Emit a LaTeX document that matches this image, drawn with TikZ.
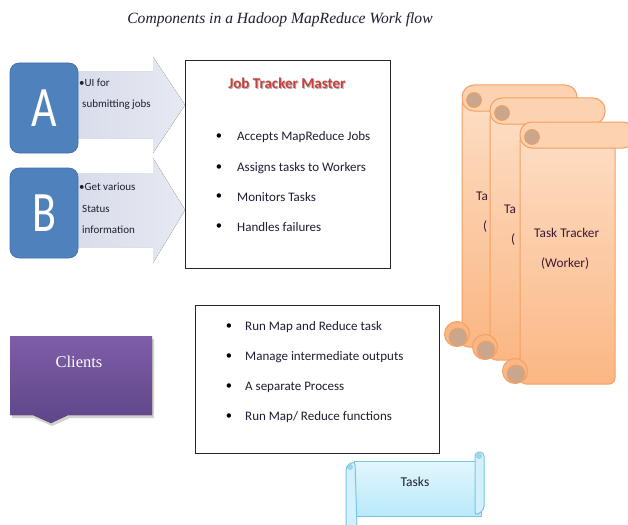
\documentclass[tikz,border=0pt]{standalone}
\usepackage{fontspec}
\setmainfont{Carlito}
\newfontfamily\serifface{Liberation Serif}
\definecolor{txt}{HTML}{1E1E32}
\definecolor{blueBox}{HTML}{4F81BD}
\definecolor{blueEdge}{HTML}{3F6FA8}
\definecolor{arrowFill}{HTML}{D8DCEA}
\definecolor{arrowLight}{HTML}{E6E9F2}
\definecolor{jtRed}{HTML}{C8403C}
\definecolor{peachTop}{HTML}{FDDDC4}
\definecolor{peachBot}{HTML}{FAB784}
\definecolor{peachRoll}{HTML}{FCD2B0}
\definecolor{orangeEdge}{HTML}{F4A062}
\definecolor{curlTan}{HTML}{C9A68C}
\definecolor{purpleTop}{HTML}{7F5DA8}
\definecolor{purpleBot}{HTML}{5E4689}
\definecolor{cyanTop}{HTML}{E2F6FD}
\definecolor{cyanBot}{HTML}{B9E9FA}
\definecolor{cyanEdge}{HTML}{78C6E0}

\tikzset{
  letterbox/.style={fill=blueBox, draw=blueEdge, rounded corners=9pt, line width=0.6pt},
  blockarrow/.style={left color=arrowFill, right color=arrowLight, draw=none},
  sidetext/.style={font=\fontsize{11}{13}\selectfont, text=txt, anchor=west, inner sep=0pt},
  bullettext/.style={font=\fontsize{13}{15}\selectfont, text=txt, anchor=west, inner sep=0pt},
  bulletdot/.style={font=\fontsize{12.5}{15}\selectfont, text=black, inner sep=0pt},
  listbox/.style={draw=black!85, line width=0.9pt, fill=white},
  scrolltext/.style={font=\fontsize{13.3}{15}\selectfont, text=txt!80!purple, inner sep=0pt, anchor=west},
}

% one vertical scroll: #1 left edge of the sheet, #2 top of the roll, #3 name prefix,
% #4 and #5 the two label lines as far as they show
\newcommand\vscroll[5]{%
  \begin{scope}[shift={(#1,#2)}]
    % sheet
    \draw[top color=peachTop, bottom color=peachBot, draw=orangeEdge, line width=1pt,
          rounded corners=6pt] (0,13) -- (95,13) -- (95,262) -- (0,262) -- cycle;
    % bottom curl
    \draw[fill=peachBot, draw=orangeEdge, line width=1pt] (-5,249) circle (12.5);
    \draw[fill=curlTan, draw=orangeEdge, line width=0.8pt] (-4,252) circle (9);
    % top roll
    \draw[fill=peachRoll, draw=orangeEdge, line width=1pt, rounded corners=12pt]
          (0,0) rectangle (115,26);
    \draw[fill=curlTan, draw=orangeEdge, line width=0.8pt] (12,15) circle (7.5);
    \node[scrolltext] (#3-title) at (14,111) {#4};
    \node[scrolltext] (#3-role) at (21,142) {#5};
  \end{scope}}

\begin{document}
\begin{tikzpicture}[x=1pt,y=-1pt]
\useasboundingbox (0,0) rectangle (628,524);
\fill[white] (0,0) rectangle (628,524);

% heading
\node[font=\serifface\itshape\fontsize{15.6}{19}\selectfont, text=txt] (title) at (280,20)
  {Components in a Hadoop MapReduce Work flow};

% block arrows behind the letter boxes
\fill[blockarrow] (70,72) -- (153,72) -- (153,57) -- (185,105) -- (153,153)
  -- (153,138) -- (70,138) -- cycle;
\fill[blockarrow] (70,173) -- (153,173) -- (153,158) -- (185,210) -- (153,263)
  -- (153,247) -- (70,247) -- cycle;
\coordinate (arrA) at (185,105);
\coordinate (arrB) at (185,210);

% letter boxes
\draw[letterbox] (10,63) rectangle (78,153);
\node[text=white, font=\fontsize{44}{44}\selectfont] (letA) at (44,108) {\scalebox{1}[1.3]{A}};
\draw[letterbox] (10,168) rectangle (78,258);
\node[text=white, font=\fontsize{44}{44}\selectfont] (letB) at (44,213) {\scalebox{1}[1.3]{B}};

\node[sidetext] (a1) at (79,83) {\textbullet UI for};
\node[sidetext] (a2) at (82,105) {submitting jobs};
\node[sidetext] (b1) at (79,187) {\textbullet Get various};
\node[sidetext] (b2) at (82,209) {Status};
\node[sidetext] (b3) at (82,230) {information};

% job tracker box
\draw[listbox] (185,60) rectangle (390,268);
\node[font=\bfseries\fontsize{15}{17}\selectfont, text=black!30] at (288,84.5) {Job Tracker Master};
\node[font=\bfseries\fontsize{15}{17}\selectfont, text=jtRed] (jt) at (287,83) {Job Tracker Master};
\foreach \yy/\tt [count=\i] in {137/{Accepts MapReduce Jobs}, 168/{Assigns tasks to Workers},
                                197/{Monitors Tasks}, 227/{Handles failures}}{
  \node[bulletdot] (jtb\i) at (219,\yy) {\textbullet};
  \node[bullettext] (jtt\i) at (237,\yy) {\tt};
}

% task trackers, stacked back to front
\vscroll{462}{85}{tt1}{Ta}{(}
\vscroll{490}{98}{tt2}{Ta}{(}
\vscroll{520}{122}{tt3}{Task Tracker}{(Worker)}

% clients callout
\fill[black!18] (12,339) -- (154,339) -- (154,418) -- (70,418) -- (52,426) -- (34,418)
  -- (12,418) -- cycle;
\fill[top color=purpleTop, bottom color=purpleBot] (10,336) -- (152,336) -- (152,415)
  -- (68,415) -- (51,423) -- (33,415) -- (10,415) -- cycle;
\node[text=white, font=\serifface\fontsize{16.5}{18}\selectfont] (clients) at (79,362) {Clients};

% worker duties box
\draw[listbox] (195,305) rectangle (439,453);
\foreach \yy/\tt [count=\i] in {327/{Run Map and Reduce task}, 357/{Manage intermediate outputs},
                                387/{A separate Process}, 417/{Run Map/ Reduce functions}}{
  \node[bulletdot] (wkb\i) at (229,\yy) {\textbullet};
  \node[bullettext] (wkt\i) at (245,\yy) {\tt};
}

% tasks scroll
\draw[top color=cyanTop, bottom color=cyanBot, draw=cyanEdge, line width=1pt]
  (354,461) rectangle (481,516);
\draw[fill=cyanTop!60!cyanBot, draw=cyanEdge, line width=1pt, rounded corners=4pt]
  (475,452) -- (484,452) -- (484,510) -- (475,516) -- cycle;
\draw[fill=cyanTop!60!cyanBot, draw=cyanEdge, line width=1pt, rounded corners=4pt]
  (346,466) -- (355,461) -- (357,528) -- (346,528) -- cycle;
\draw[fill=cyanEdge!70, draw=cyanEdge] (479,456) circle (2.5);
\draw[fill=cyanEdge!70, draw=cyanEdge] (350,467) circle (2.5);
\node[font=\fontsize{13.5}{15}\selectfont, text=txt] (tasks) at (415,482) {Tasks};
\end{tikzpicture}
\end{document}
